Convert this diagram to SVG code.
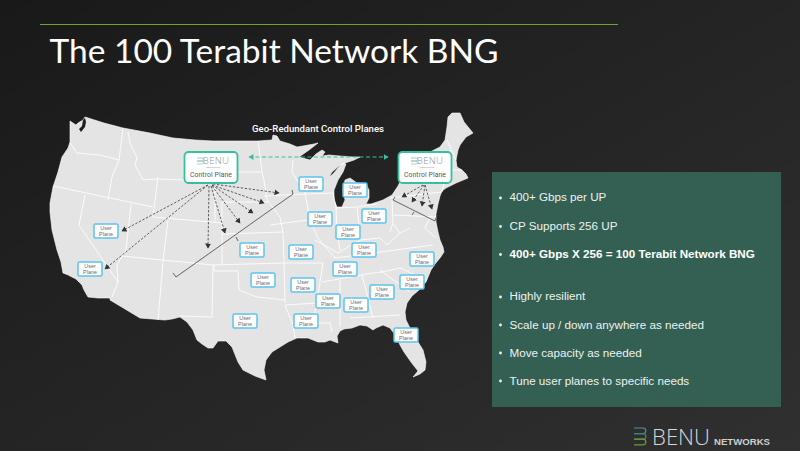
<svg xmlns="http://www.w3.org/2000/svg" width="800" height="451" viewBox="0 0 800 451">
<style>
.st{fill:none;stroke:#fff;stroke-width:0.85;stroke-linejoin:round}
.up rect{fill:#fff;stroke:#5cc4ee;stroke-width:1.5}
.up text{font:5.4px "Liberation Sans",Arial,sans-serif;fill:#6a6a6a;text-anchor:middle}
.cp rect{fill:#fff;stroke:#37c0a0;stroke-width:1.8}
.cpt{font:6.8px "Roboto",sans-serif;fill:#555;text-anchor:middle;letter-spacing:.1px}
.lg{font:300 9.6px "Open Sans",sans-serif;fill:#8a8f94;text-anchor:middle;letter-spacing:.3px}
.lg2{font:2.4px "Liberation Sans",sans-serif;fill:#8a8f94;text-anchor:middle}
.da{fill:none;stroke:#444;stroke-width:0.85;stroke-dasharray:2.4 1.6;marker-end:url(#ah)}
.gr{fill:none;stroke:#555;stroke-width:0.9}
.pt{font:11.67px "Liberation Sans",Arial,sans-serif;fill:#eef2f0}
.pb{font-weight:bold;fill:#fff}
</style>
<defs>
<linearGradient id="bg" x1="0" y1="0" x2="1" y2="1"><stop offset="0" stop-color="#191919"/><stop offset="1" stop-color="#303030"/></linearGradient>
<marker id="ah" markerWidth="7" markerHeight="7" refX="4.500" refY="3" orient="auto" markerUnits="userSpaceOnUse"><path d="M0 0L5 3L0 6Z" fill="#333"/></marker>
<marker id="gs" markerWidth="7" markerHeight="7" refX="4.500" refY="3" orient="auto-start-reverse" markerUnits="userSpaceOnUse"><path d="M0 0L5 3L0 6Z" fill="#37c0a0"/></marker>
</defs>
<rect width="800" height="451" fill="url(#bg)"/>
<line x1="40" y1="24.500" x2="505" y2="24.500" stroke="#6aa534" stroke-width="1"/>
<line x1="505" y1="24.500" x2="618" y2="24.500" stroke="#6aa534" stroke-width="1"/>
<text x="49.500" y="62.500" font-family="Lato,sans-serif" font-size="33" fill="#fff" textLength="449" lengthAdjust="spacingAndGlyphs">The 100 Terabit Network BNG</text>
<g id="map">
<path fill="#e4e4e4" stroke="#fff" stroke-width="0.6" stroke-linejoin="round" d="M70 121L76 125L78 123L83 120L85 117L104 123L123 128L150 133L173 138L195 140L213 141L240 141L258 141L272 140L273 135L277 136L280 141L290 144L297 147L303 146L314 144L318 143L309 150L299 157L310 160L316 154L322 150L325 152L322 156L329 155L340 156L353 157L360 157L354 160L345 163L339 166L332 172L329 177L333 174L338 168L343 163L346 164L343 172L338 180L334 190L334 200L337 207L342 207L345 200L343 190L345 180L350 178L357 183L366 184L369 190L369 198L366 204L371 204L383 200L392 195L398 186L402 178L410 170L421 160L430 152L440 147L445 140L447 127L448 117L452 113L460 113L464 122L473 133L466 137L460 145L458 150L456 160L457 167L462 170L466 174L468 178L456 183L446 188L442 191L440 196L438 204L436 214L436 222L438 232L440 240L443 247L444 252L440 258L435 264L431 270L426 282L419 290L412 296L407 303L405 312L406 320L412 332L418 342L423 350L426 362L425 370L420 374L413 377L418 371L411 362L404 352L400 345L396 336L390 328L383 325L376 328L373 330L367 326L360 325L352 328L344 329L340 331L337 336L338 343L330 340L325 342L318 342L308 338L297 338L288 342L280 347L272 352L266 360L264 370L266 380L255 376L243 370L238 362L232 347L226 341L218 341L213 348L208 348L202 344L197 340L193 330L187 322L180 317L172 319L165 320L152 319L140 318L125 309L110 300L110 298L98 298L88 297L84 290L82 285L76 279L68 275L63 273L61 262L57 250L52 230L50 212L50 203L53 187L58 172L62 157L68 148L70 142Z"/>
<path fill="#1f1f1f" d="M83 120l2-2l1 4l-1 5l-4 5l-2-3l3-3zM63 274l6 2l-1 1l-6-2zM70 284l2 1l-1 1zM78 285l2 3l-1 2l-2-3z"/>
<g class="st">
<path d="M70 143L77 153L100 155L119 160"/><path d="M123 128L119 160L112 177L108 200"/><path d="M53 186L153 207"/>
<path d="M85 195L79 225L118 282L112 297"/><path d="M131 204L126 250L122 256L117 265L118 282"/>
<path d="M128 132L130 143L137 158L135 165L143 180L157 179L185 180L215 183L238 172L262 172"/>
<path d="M158 177L153 217L222 223"/><path d="M168 220L163 262L158 320"/><path d="M122 256L213 265L283 263"/>
<path d="M213 265L212 317L180 316"/><path d="M222 202L222 265"/><path d="M215 183L215 223"/><path d="M222 234L283 232"/>
<path d="M258 141L262 172L264 180L267 200L280 217L283 232L284 263L285 303"/><path d="M222 202L260 202L268 202"/>
<path d="M214 271L238 271L239 290L257 297L285 300"/>
<path d="M214 271L214 265"/>
<path d="M293 160L292 172L305 193L307 203L310 220L318 238L335 258"/><path d="M264 196L305 194L333 193L336 207L337 233L340 250"/>
<path d="M270 225L308 220"/><path d="M336 208L357 207L377 204"/><path d="M357 207L360 233"/><path d="M392 200L393 223L390 232"/>
<path d="M390 198L442 192"/><path d="M393 215L437 217"/><path d="M283 263L323 263L320 282L317 302L313 322L293 323"/>
<path d="M285 305L318 303"/><path d="M340 280L340 327"/><path d="M362 275L373 318"/><path d="M350 318L400 315"/>
<path d="M322 282L373 273L382 272"/><path d="M335 258L433 245"/><path d="M382 272L400 268L427 280"/><path d="M380 270L410 292"/>
<path d="M315 240L338 253L360 240L380 238L387 245L400 233L410 228"/><path d="M285 305L293 325L295 338"/><path d="M317 323L330 323L332 332"/>
<path d="M393 223L400 233"/><path d="M430 217L425 228L436 238"/><path d="M442 192L448 165L450 150"/><path d="M448 170L462 170"/><path d="M456 160L447 140"/>
</g>
</g>
<g id="connectors">
<line x1="249" y1="157" x2="388" y2="157" stroke="#37c0a0" stroke-width="1.200" stroke-dasharray="4 2.500" marker-start="url(#gs)" marker-end="url(#gs)"/>
<path class="da" d="M208 185L122 231"/><path class="da" d="M208 185L105 269"/><path class="da" d="M209 186L208 248"/><path class="da" d="M211 186L225 233"/><path class="da" d="M212 186L240 223"/><path class="da" d="M212 185L253 213"/><path class="da" d="M212 185L264 203"/><path class="da" d="M213 184L279 193"/>
<path class="da" d="M423 185L402 197"/><path class="da" d="M424 185L412 202"/><path class="da" d="M425 185L422 206"/><path class="da" d="M425 185L432 209"/>
<path class="gr" d="M173 273L176 277L293 194L292 190M236 237L238 241"/>
<path class="gr" d="M395 197L393 200L435 221L437 215M414 212L412 215"/>
</g>
<g id="cp-west" class="cp"><rect x="184.500" y="152" width="53" height="31" rx="4"/><text class="lg" x="216" y="164">BENU</text><text class="lg2" x="213" y="167.500">NETWORKS</text><path d="M197 158h5a1.500 1.500 0 0 1 0 3h-5" stroke="#6fb6c9" stroke-width=".7" fill="none"/><path d="M197 161h5a1.500 1.500 0 0 1 0 3h-5" stroke="#8fc0a0" stroke-width=".7" fill="none"/><text class="cpt" x="211" y="177">Control Plane</text></g>
<g id="cp-east" class="cp"><rect x="398.500" y="152" width="53" height="31" rx="4"/><text class="lg" x="430" y="164">BENU</text><text class="lg2" x="427" y="167.500">NETWORKS</text><path d="M411 158h5a1.500 1.500 0 0 1 0 3h-5" stroke="#6fb6c9" stroke-width=".7" fill="none"/><path d="M411 161h5a1.500 1.500 0 0 1 0 3h-5" stroke="#8fc0a0" stroke-width=".7" fill="none"/><text class="cpt" x="425" y="177">Control Plane</text></g>
<g id="up1" class="up" transform="translate(106 231)"><rect x="-12" y="-7" width="24" height="14" rx="1.500"/><text y="-1">User</text><text y="5">Plane</text></g>
<g id="up2" class="up" transform="translate(90 269)"><rect x="-12" y="-7" width="24" height="14" rx="1.500"/><text y="-1">User</text><text y="5">Plane</text></g>
<g id="up3" class="up" transform="translate(311 184)"><rect x="-12" y="-7" width="24" height="14" rx="1.500"/><text y="-1">User</text><text y="5">Plane</text></g>
<g id="up4" class="up" transform="translate(355 190)"><rect x="-12" y="-7" width="24" height="14" rx="1.500"/><text y="-1">User</text><text y="5">Plane</text></g>
<g id="up5" class="up" transform="translate(320 219)"><rect x="-12" y="-7" width="24" height="14" rx="1.500"/><text y="-1">User</text><text y="5">Plane</text></g>
<g id="up6" class="up" transform="translate(374 216)"><rect x="-12" y="-7" width="24" height="14" rx="1.500"/><text y="-1">User</text><text y="5">Plane</text></g>
<g id="up7" class="up" transform="translate(348 232)"><rect x="-12" y="-7" width="24" height="14" rx="1.500"/><text y="-1">User</text><text y="5">Plane</text></g>
<g id="up8" class="up" transform="translate(252 250)"><rect x="-12" y="-7" width="24" height="14" rx="1.500"/><text y="-1">User</text><text y="5">Plane</text></g>
<g id="up9" class="up" transform="translate(301 252)"><rect x="-12" y="-7" width="24" height="14" rx="1.500"/><text y="-1">User</text><text y="5">Plane</text></g>
<g id="up10" class="up" transform="translate(364 250)"><rect x="-12" y="-7" width="24" height="14" rx="1.500"/><text y="-1">User</text><text y="5">Plane</text></g>
<g id="up11" class="up" transform="translate(422 259)"><rect x="-12" y="-7" width="24" height="14" rx="1.500"/><text y="-1">User</text><text y="5">Plane</text></g>
<g id="up12" class="up" transform="translate(345 269)"><rect x="-12" y="-7" width="24" height="14" rx="1.500"/><text y="-1">User</text><text y="5">Plane</text></g>
<g id="up13" class="up" transform="translate(263 280)"><rect x="-12" y="-7" width="24" height="14" rx="1.500"/><text y="-1">User</text><text y="5">Plane</text></g>
<g id="up14" class="up" transform="translate(303 285)"><rect x="-12" y="-7" width="24" height="14" rx="1.500"/><text y="-1">User</text><text y="5">Plane</text></g>
<g id="up15" class="up" transform="translate(412 282)"><rect x="-12" y="-7" width="24" height="14" rx="1.500"/><text y="-1">User</text><text y="5">Plane</text></g>
<g id="up16" class="up" transform="translate(382 292)"><rect x="-12" y="-7" width="24" height="14" rx="1.500"/><text y="-1">User</text><text y="5">Plane</text></g>
<g id="up17" class="up" transform="translate(328 301)"><rect x="-12" y="-7" width="24" height="14" rx="1.500"/><text y="-1">User</text><text y="5">Plane</text></g>
<g id="up18" class="up" transform="translate(356 305)"><rect x="-12" y="-7" width="24" height="14" rx="1.500"/><text y="-1">User</text><text y="5">Plane</text></g>
<g id="up19" class="up" transform="translate(245 321)"><rect x="-12" y="-7" width="24" height="14" rx="1.500"/><text y="-1">User</text><text y="5">Plane</text></g>
<g id="up20" class="up" transform="translate(306 321)"><rect x="-12" y="-7" width="24" height="14" rx="1.500"/><text y="-1">User</text><text y="5">Plane</text></g>
<g id="up21" class="up" transform="translate(406 335)"><rect x="-12" y="-7" width="24" height="14" rx="1.500"/><text y="-1">User</text><text y="5">Plane</text></g>
<text x="318" y="132" font-family="Roboto,sans-serif" font-weight="500" font-size="9.500" fill="#fff" text-anchor="middle" textLength="132" lengthAdjust="spacingAndGlyphs">Geo-Redundant Control Planes</text>
<g id="panel">
<rect x="492" y="172" width="289" height="235" fill="#336053"/>
<g fill="#eef2f0"><circle cx="500.500" cy="198" r="1.400"/><circle cx="500.500" cy="226.500" r="1.400"/><circle cx="500.500" cy="254.500" r="1.400"/><circle cx="500.500" cy="297" r="1.400"/><circle cx="500.500" cy="325" r="1.400"/><circle cx="500.500" cy="353" r="1.400"/><circle cx="500.500" cy="381" r="1.400"/></g>
<text class="pt" x="509.500" y="201">400+ Gbps per UP</text>
<text class="pt" x="509.500" y="230">CP Supports 256 UP</text>
<text class="pt pb" x="509.500" y="258">400+ Gbps X 256 = 100 Terabit Network BNG</text>
<text class="pt" x="509.500" y="300">Highly resilient</text>
<text class="pt" x="509.500" y="329">Scale up / down anywhere as needed</text>
<text class="pt" x="509.500" y="357">Move capacity as needed</text>
<text class="pt" x="509.500" y="385">Tune user planes to specific needs</text>
</g>
<g id="logo">
<path d="M634 428h9a2.800 2.800 0 0 1 0 5.600h-9" fill="none" stroke="#4f8fa8" stroke-width="1.200"/>
<path d="M634 433.600h9a2.800 2.800 0 0 1 0 5.600h-9" fill="none" stroke="#4a7f70" stroke-width="1.200"/>
<path d="M634 439.200h9a2.800 2.800 0 0 1 0 5.600h-9" fill="none" stroke="#6a9a3c" stroke-width="1.200"/>
<text x="652" y="445" font-family="'Open Sans',sans-serif" font-weight="300" font-size="22" fill="#d8d8d8" textLength="58" lengthAdjust="spacingAndGlyphs">BENU</text>
<text x="714" y="444.500" font-family="'Liberation Sans',sans-serif" font-weight="bold" font-size="9.500" fill="#cfcfcf" textLength="56" lengthAdjust="spacingAndGlyphs">NETWORKS</text>
</g>
</svg>
